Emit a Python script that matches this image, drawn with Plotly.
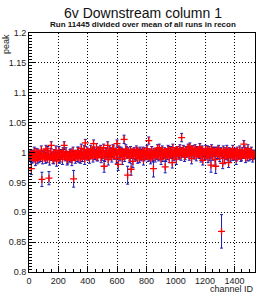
import plotly.graph_objects as go

channel_a = list(range(0, 1544, 8))
channel_b = list(range(4, 1540, 8))

ratio_a = [
    0.996, 0.993, 0.973, 0.998, 0.991, 0.995, 1.001, 0.989, 0.994, 0.997,
    0.992, 0.955, 0.996, 0.999, 0.990, 0.994, 1.003, 0.957, 0.993, 1.012,
    0.995, 0.988, 0.997, 1.004, 0.992, 0.996, 0.990, 0.999, 0.994, 1.002,
    1.012, 0.993, 0.997, 0.989, 0.995, 1.000, 0.991, 0.996, 0.956, 0.994,
    0.998, 0.992, 1.003, 0.996, 0.990, 0.999, 0.994, 1.005, 1.016, 0.997,
    0.993, 1.001, 0.996, 0.999, 1.004, 1.015, 0.995, 1.000, 0.992, 1.003,
    0.998, 1.006, 0.994, 1.001, 0.977, 0.997, 1.003, 1.012, 0.999, 0.995,
    1.002, 0.998, 1.005, 0.996, 1.000, 1.015, 0.980, 1.003, 0.997, 1.001,
    0.995, 1.022, 0.999, 1.004, 0.962, 0.998, 0.993, 0.972, 1.001, 0.996,
    0.999, 0.994, 1.002, 0.997, 0.991, 1.000, 0.996, 1.003, 0.993, 0.998,
    0.995, 1.001, 1.020, 0.994, 0.999, 0.992, 0.973, 0.997, 1.002, 0.995,
    0.999, 1.008, 0.996, 1.003, 0.993, 0.998, 0.976, 1.001, 0.995, 1.004,
    0.997, 1.000, 0.983, 0.998, 1.002, 0.995, 1.005, 0.999, 0.996, 1.003,
    1.025, 0.998, 1.001, 0.995, 1.004, 0.999, 1.002, 1.010, 0.997, 1.006,
    1.000, 0.996, 1.003, 0.999, 1.005, 0.997, 1.001, 1.004, 0.987, 0.999,
    1.002, 0.996, 1.005, 1.000, 0.994, 0.979, 1.003, 0.998, 1.001, 0.977,
    0.999, 1.004, 0.996, 1.001, 0.868, 0.982, 0.998, 1.003, 0.995, 1.000,
    0.983, 0.997, 1.002, 0.994, 0.999, 0.996, 1.001, 0.993, 0.998, 0.995,
    1.000, 0.994, 0.997, 1.014, 0.996, 1.002, 0.993, 0.998, 1.001, 0.995,
    0.999, 0.994, 0.997,
]

ratio_err_a = [
    0.006, 0.005, 0.010, 0.006, 0.007, 0.005, 0.006, 0.008, 0.005, 0.006,
    0.007, 0.012, 0.006, 0.005, 0.008, 0.006, 0.007, 0.011, 0.006, 0.006,
    0.005, 0.007, 0.006, 0.007, 0.006, 0.005, 0.008, 0.006, 0.005, 0.006,
    0.006, 0.007, 0.005, 0.008, 0.006, 0.005, 0.007, 0.006, 0.014, 0.005,
    0.006, 0.007, 0.006, 0.005, 0.008, 0.006, 0.005, 0.007, 0.006, 0.005,
    0.006, 0.005, 0.007, 0.006, 0.005, 0.006, 0.007, 0.005, 0.006, 0.006,
    0.005, 0.006, 0.007, 0.005, 0.010, 0.006, 0.005, 0.006, 0.005, 0.007,
    0.006, 0.005, 0.006, 0.007, 0.005, 0.006, 0.010, 0.006, 0.005, 0.006,
    0.007, 0.007, 0.005, 0.006, 0.015, 0.006, 0.007, 0.010, 0.005, 0.006,
    0.005, 0.007, 0.006, 0.005, 0.008, 0.006, 0.005, 0.006, 0.007, 0.005,
    0.006, 0.005, 0.006, 0.007, 0.005, 0.008, 0.014, 0.006, 0.005, 0.007,
    0.005, 0.006, 0.007, 0.005, 0.008, 0.006, 0.010, 0.005, 0.007, 0.006,
    0.005, 0.006, 0.009, 0.005, 0.006, 0.007, 0.005, 0.006, 0.007, 0.005,
    0.007, 0.006, 0.005, 0.007, 0.006, 0.005, 0.006, 0.006, 0.007, 0.005,
    0.006, 0.007, 0.005, 0.006, 0.005, 0.007, 0.006, 0.005, 0.008, 0.006,
    0.005, 0.007, 0.006, 0.005, 0.008, 0.012, 0.006, 0.005, 0.007, 0.012,
    0.006, 0.005, 0.007, 0.006, 0.028, 0.009, 0.006, 0.005, 0.007, 0.006,
    0.008, 0.006, 0.005, 0.007, 0.006, 0.005, 0.006, 0.007, 0.005, 0.006,
    0.005, 0.007, 0.006, 0.006, 0.005, 0.006, 0.007, 0.005, 0.006, 0.007,
    0.005, 0.006, 0.005,
]

ratio_b = [
    0.994, 0.998, 0.990, 0.996, 1.002, 0.987, 0.993, 0.999, 0.991, 0.995,
    1.004, 0.989, 0.997, 0.993, 1.006, 0.991, 0.996, 0.988, 1.001, 0.994,
    0.990, 0.999, 0.993, 0.986, 0.997, 1.003, 0.992, 0.995, 0.989, 0.998,
    0.994, 1.001, 0.988, 0.996, 0.992, 0.999, 0.987, 1.003, 0.995, 0.990,
    0.996, 1.002, 0.991, 0.998, 1.007, 0.993, 1.000, 0.989, 0.997, 1.003,
    0.995, 0.990, 1.006, 0.998, 0.992, 1.001, 0.996, 1.009, 0.994, 0.999,
    1.003, 0.991, 0.997, 1.008, 0.993, 1.000, 0.995, 0.988, 1.004, 0.998,
    0.992, 1.007, 0.996, 1.001, 0.990, 0.998, 1.005, 0.994, 1.002, 0.989,
    0.999, 0.993, 1.006, 0.996, 1.001, 0.991, 1.004, 0.997, 0.985, 1.002,
    0.995, 1.005, 0.990, 0.999, 1.003, 0.994, 0.998, 0.988, 1.002, 0.996,
    1.006, 0.993, 0.999, 0.990, 1.004, 0.996, 1.001, 0.992, 0.998, 1.007,
    0.994, 1.000, 0.989, 1.005, 0.997, 1.002, 0.993, 0.999, 1.006, 0.991,
    1.003, 0.996, 1.008, 0.994, 1.000, 0.989, 1.004, 0.998, 1.007, 0.995,
    1.001, 1.006, 0.993, 1.003, 0.998, 1.008, 0.995, 1.002, 0.990, 1.005,
    0.999, 1.007, 0.994, 1.003, 0.997, 1.009, 0.992, 1.004, 1.000, 0.995,
    1.006, 0.998, 0.991, 1.004, 0.999, 1.007, 0.995, 1.002, 0.988, 1.003,
    0.997, 1.006, 0.993, 1.001, 0.996, 1.004, 0.990, 0.999, 1.005, 0.994,
    1.002, 0.992, 0.998, 1.006, 0.995, 1.000, 0.989, 1.003, 0.997, 1.005,
    0.993, 1.001, 0.996, 1.004, 0.991, 0.999, 1.006, 0.994, 0.998, 1.002,
    0.992, 0.997,
]

ratio_err_b = [
    0.007, 0.006, 0.008, 0.006, 0.007, 0.009, 0.006, 0.007, 0.008, 0.006,
    0.007, 0.008, 0.006, 0.007, 0.006, 0.008, 0.007, 0.009, 0.006, 0.007,
    0.008, 0.006, 0.007, 0.009, 0.006, 0.007, 0.008, 0.006, 0.009, 0.007,
    0.006, 0.007, 0.009, 0.006, 0.008, 0.007, 0.009, 0.006, 0.007, 0.008,
    0.006, 0.007, 0.008, 0.006, 0.007, 0.008, 0.006, 0.009, 0.007, 0.006,
    0.007, 0.008, 0.006, 0.007, 0.008, 0.006, 0.007, 0.006, 0.008, 0.007,
    0.006, 0.008, 0.007, 0.006, 0.008, 0.007, 0.006, 0.009, 0.007, 0.006,
    0.008, 0.006, 0.007, 0.006, 0.008, 0.007, 0.006, 0.008, 0.007, 0.009,
    0.006, 0.008, 0.007, 0.006, 0.007, 0.008, 0.006, 0.007, 0.010, 0.006,
    0.007, 0.006, 0.008, 0.007, 0.006, 0.008, 0.007, 0.009, 0.006, 0.007,
    0.006, 0.008, 0.007, 0.009, 0.006, 0.007, 0.006, 0.008, 0.007, 0.006,
    0.008, 0.007, 0.009, 0.006, 0.007, 0.006, 0.008, 0.007, 0.006, 0.008,
    0.007, 0.006, 0.006, 0.008, 0.007, 0.009, 0.006, 0.007, 0.006, 0.008,
    0.007, 0.006, 0.008, 0.007, 0.006, 0.006, 0.008, 0.007, 0.009, 0.006,
    0.007, 0.006, 0.008, 0.007, 0.006, 0.006, 0.008, 0.007, 0.006, 0.008,
    0.006, 0.007, 0.008, 0.006, 0.007, 0.006, 0.008, 0.007, 0.009, 0.006,
    0.007, 0.006, 0.008, 0.007, 0.006, 0.007, 0.009, 0.006, 0.007, 0.008,
    0.006, 0.008, 0.007, 0.006, 0.008, 0.007, 0.009, 0.006, 0.007, 0.006,
    0.008, 0.007, 0.006, 0.007, 0.008, 0.006, 0.007, 0.008, 0.006, 0.007,
    0.008, 0.007,
]

y_ticks = [0.8, 0.85, 0.9, 0.95, 1.0, 1.05, 1.1, 1.15, 1.2]
y_tick_labels = ["0.8", "0.85", "0.9", "0.95", "1", "1.05", "1.1", "1.15", "1.2"]
x_ticks = [0, 200, 400, 600, 800, 1000, 1200, 1400]
x_tick_labels = ["0", "200", "400", "600", "800", "1000", "1200", "1400"]

FONT = "Liberation Sans, Arial, Helvetica, sans-serif"

xs = channel_b + channel_a
ys = ratio_b + ratio_a
es = ratio_err_b + ratio_err_a

fig = go.Figure()
fig.add_trace(go.Scatter(
    x=xs, y=ys,
    mode="markers",
    marker=dict(symbol="cross-thin", size=5, color="#ff0000",
                line=dict(color="#ff0000", width=1.3)),
    error_y=dict(type="data", array=es, visible=True,
                 color="#1a1ab4", thickness=1, width=1.5),
    showlegend=False,
))

PH = 294 - 33 - 22
PW = 257 - 29 - 2

fig.update_layout(
    width=257, height=294,
    margin=dict(l=29, r=2, t=33, b=22),
    paper_bgcolor="white", plot_bgcolor="white",
    font=dict(family=FONT, color="#222222"),
    xaxis=dict(
        range=[0, 1540], tickmode="array", tickvals=x_ticks, ticktext=x_tick_labels,
        ticks="inside", ticklen=6, tickcolor="black", tickwidth=1,
        minor=dict(ticks="inside", ticklen=3, dtick=50, tickcolor="black", showgrid=False),
        showline=True, linecolor="black", linewidth=1, mirror=True,
        showgrid=True, gridcolor="black", griddash="1px,2px", gridwidth=1,
        zeroline=False, tickfont=dict(size=9, family=FONT, color="#222222"),
    ),
    yaxis=dict(
        range=[0.8, 1.2], tickmode="array", tickvals=y_ticks, ticktext=y_tick_labels,
        ticks="inside", ticklen=6, tickcolor="black", tickwidth=1,
        minor=dict(ticks="inside", ticklen=3, dtick=0.005, tickcolor="black", showgrid=False),
        showline=True, linecolor="black", linewidth=1, mirror=True,
        showgrid=True, gridcolor="black", griddash="1px,2px", gridwidth=1,
        zeroline=False, tickfont=dict(size=9, family=FONT, color="#222222"),
    ),
    annotations=[
        dict(text="6v Downstream column 1", xref="paper", yref="paper",
             x=(142.5 - 29) / PW, y=1 + (33 - 12.5) / PH,
             xanchor="center", yanchor="middle", showarrow=False,
             font=dict(size=14, family=FONT, color="#111111")),
        dict(text="<b>Run 11445 divided over mean of all runs in recon</b>",
             xref="paper", yref="paper",
             x=(142.5 - 29) / PW, y=1 + (33 - 24.5) / PH,
             xanchor="center", yanchor="middle", showarrow=False,
             font=dict(size=8, family=FONT, color="#111111")),
        dict(text="peak", xref="paper", yref="paper",
             x=(6 - 29) / PW, y=1 + 1 / PH, xanchor="center", yanchor="top",
             textangle=-90, showarrow=False,
             font=dict(size=9, family=FONT, color="#222222")),
        dict(text="channel ID", xref="paper", yref="paper",
             x=1 + 1 / PW, y=(272 - 289) / PH, xanchor="right", yanchor="middle",
             showarrow=False,
             font=dict(size=9, family=FONT, color="#222222")),
    ],
)

fig.write_html("out.html", config={"displayModeBar": False},
               post_script="document.body.style.margin='0';document.body.style.overflow='hidden';")
